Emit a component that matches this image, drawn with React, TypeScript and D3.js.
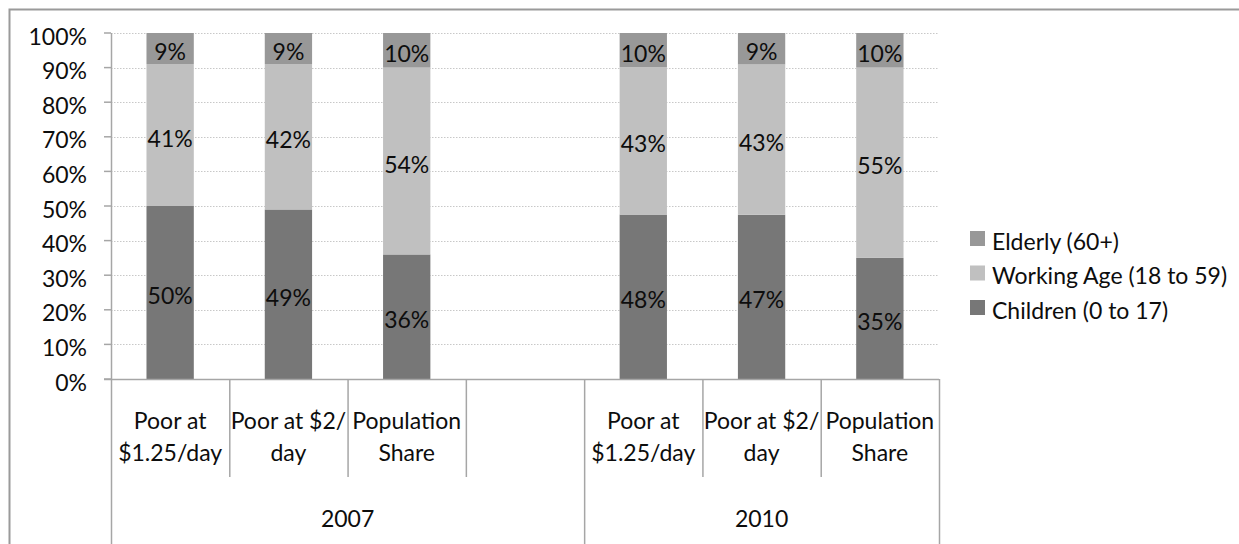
import React from "react";
import * as d3 from "d3";

// Categories along the x axis (two-line labels); the empty slot separates the years
const categoryLine1 = ["Poor at", "Poor at $2/", "Population", "", "Poor at", "Poor at $2/", "Population"];
const categoryLine2 = ["$1.25/day", "day", "Share", "", "$1.25/day", "day", "Share"];
const yearGroups = ["2007", "2010"];
const yearSpans = [[0, 4], [4, 7]]; // slot ranges [start, end) covered by each year

// Shares in percent, one value per slot (null = empty slot)
const children = [50, 49, 36, null, 48, 47, 35];
const workingAge = [41, 42, 54, null, 43, 43, 55];
const elderly = [9, 9, 10, null, 10, 9, 10];

const seriesNames = ["Elderly (60+)", "Working Age (18 to 59)", "Children (0 to 17)"];
const seriesColors = ["#989898", "#c0c0c0", "#777777"];

const yTicks = [0, 10, 20, 30, 40, 50, 60, 70, 80, 90, 100];

const W = 1239;
const H = 544;
const FONT = "Lato, 'Open Sans', sans-serif";
const FS = 23;
const MID_DY = "0.5em";

export default function App() {
  const x = d3.scaleBand<number>().domain(d3.range(7)).range([111, 939]).padding(0);
  const y = d3.scaleLinear().domain([0, 1]).range([379, 33]);
  const bw = x.bandwidth() * 0.4;

  // stack bottom-up: children, working age, elderly (normalised to 100%)
  const stacks = d3.range(7).map((i) => {
    if (children[i] == null) return null;
    const vals = [children[i] as number, workingAge[i] as number, elderly[i] as number];
    const total = d3.sum(vals);
    let acc = 0;
    return vals.map((v, k) => {
      const s0 = acc / total;
      acc += v;
      return { k, v, s0, s1: acc / total };
    });
  });
  // series order in stack: 0 children, 1 working, 2 elderly
  const stackColors = [seriesColors[2], seriesColors[1], seriesColors[0]];

  const axisColor = "#a6a6a6";
  const textColor = "#0d0d0d";

  return (
    <div style={{ position: "absolute", left: 0, top: 0, width: W, height: H }}>
      <svg width={W} height={H} style={{ display: "block" }} fontFamily={FONT}>
        {/* chart frame */}
        <path d={`M9.5,${H + 2} V9.5 H${W + 2}`} fill="none" stroke="#9a9a9a" strokeWidth={2} />

        {/* gridlines */}
        {yTicks.slice(1).map((t) => (
          <line
            key={"g" + t}
            x1={111}
            x2={939}
            y1={Math.round(y(t / 100)) + 0.5}
            y2={Math.round(y(t / 100)) + 0.5}
            stroke="#c8c8c8"
            strokeWidth={1}
            strokeDasharray="1.5,1.5"
          />
        ))}

        {/* bars */}
        {stacks.map((st, i) =>
          st
            ? st.map((seg) => (
                <rect
                  key={`b${i}-${seg.k}`}
                  x={(x(i) as number) + (x.bandwidth() - bw) / 2}
                  y={y(seg.s1)}
                  width={bw}
                  height={y(seg.s0) - y(seg.s1)}
                  fill={stackColors[seg.k]}
                />
              ))
            : null
        )}

        {/* value labels */}
        {stacks.map((st, i) =>
          st
            ? st.map((seg) => (
                <text
                  key={`l${i}-${seg.k}`}
                  x={(x(i) as number) + x.bandwidth() / 2}
                  y={(y(seg.s0) + y(seg.s1)) / 2}
                  dy={MID_DY}
                  textAnchor="middle"
                  fontSize={FS}
                  fill={textColor}
                >
                  {seg.v}%
                </text>
              ))
            : null
        )}

        {/* y axis */}
        <line x1={111.5} x2={111.5} y1={y(1)} y2={y(0)} stroke={axisColor} strokeWidth={1.5} />
        {yTicks.map((t) => (
          <g key={"t" + t}>
            <line x1={104} x2={111} y1={y(t / 100)} y2={y(t / 100)} stroke={axisColor} strokeWidth={1.5} />
            <text x={87} y={y(t / 100)} dy={MID_DY} textAnchor="end" fontSize={FS} fill={textColor}>
              {t}%
            </text>
          </g>
        ))}

        {/* x axis and category dividers */}
        <line x1={104} x2={939} y1={379.5} y2={379.5} stroke={axisColor} strokeWidth={1.5} />
        {d3.range(8).map((i) => {
          const xp = i < 7 ? (x(i) as number) : 939;
          const isGroupEdge = i === 0 || i === 4 || i === 7;
          return (
            <line
              key={"d" + i}
              x1={xp + 0.5}
              x2={xp + 0.5}
              y1={379}
              y2={isGroupEdge ? H : 477}
              stroke={axisColor}
              strokeWidth={1.5}
            />
          );
        })}
        {d3.range(7).map((i) => (
          <g key={"c" + i}>
            <text x={(x(i) as number) + x.bandwidth() / 2} y={429} textAnchor="middle" fontSize={FS} fill={textColor}>
              {categoryLine1[i]}
            </text>
            <text x={(x(i) as number) + x.bandwidth() / 2} y={461} textAnchor="middle" fontSize={FS} fill={textColor}>
              {categoryLine2[i]}
            </text>
          </g>
        ))}
        {yearGroups.map((yr, gi) => {
          const a = x(yearSpans[gi][0]) as number;
          const b = yearSpans[gi][1] < 7 ? (x(yearSpans[gi][1]) as number) : 939;
          return (
            <text key={yr} x={(a + b) / 2} y={527} textAnchor="middle" fontSize={FS} fill={textColor}>
              {yr}
            </text>
          );
        })}

        {/* legend */}
        {seriesNames.map((name, k) => (
          <g key={name} transform={`translate(970, ${238 + k * 34.5})`}>
            <rect x={0} y={-7} width={15} height={15} fill={seriesColors[k]} />
            <text x={22} y={0} dy={MID_DY} fontSize={FS} fill={textColor}>
              {name}
            </text>
          </g>
        ))}
      </svg>
    </div>
  );
}
